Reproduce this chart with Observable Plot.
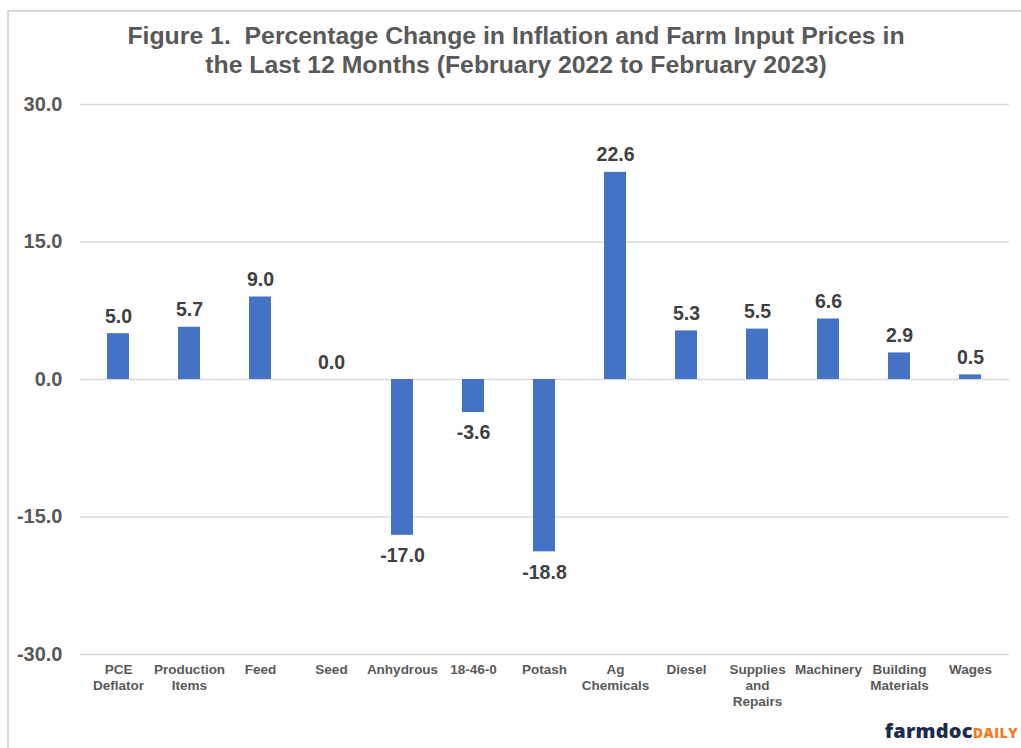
<!DOCTYPE html>
<html><head><meta charset="utf-8">
<script src="https://cdn.jsdelivr.net/npm/d3@7"></script>
<script src="https://cdn.jsdelivr.net/npm/@observablehq/plot@0.6"></script>
<style>
body{margin:0;background:#fff;font-family:"Liberation Sans",Arial,sans-serif;}
#wrap{position:relative;width:1021px;height:748px;overflow:hidden;background:#fff;}
#frame{position:absolute;left:7px;top:10px;width:1020px;height:745px;border-top:2px solid #d9d9d9;border-left:2px solid #d9d9d9;box-sizing:border-box;}
#title{position:absolute;left:0;top:22px;width:1032px;text-align:center;font-weight:bold;font-size:24.8px;line-height:28.5px;color:#595959;}
#chart{position:absolute;left:0;top:92px;}
#logo{position:absolute;right:3px;top:719px;font-family:"Open Sans",sans-serif;font-weight:800;font-size:20px;line-height:24px;color:#1d2b4f;letter-spacing:0.2px;}
#logo span{color:#f47b20;font-size:14px;letter-spacing:0.5px;}
</style></head>
<body>
<div id="wrap">
<div id="frame"></div>
<div id="title">Figure 1.&nbsp; Percentage Change in Inflation and Farm Input Prices in<br>the Last 12 Months (February 2022 to February 2023)</div>
<div id="chart"></div>
<div id="logo">farmdoc<span>DAILY</span></div>
</div>
<script>
const categories = ["PCE\nDeflator","Production\nItems","Feed","Seed","Anhydrous","18-46-0","Potash","Ag\nChemicals","Diesel","Supplies\nand\nRepairs","Machinery","Building\nMaterials","Wages"];
const values = [5.0, 5.7, 9.0, 0.0, -17.0, -3.6, -18.8, 22.6, 5.3, 5.5, 6.6, 2.9, 0.5];
const yTicks = [-30, -15, 0, 15, 30];

const data = categories.map((c, i) => ({cat: c, value: values[i]}));

const plot = Plot.plot({
  width: 1021,
  height: 656,
  marginLeft: 80,
  marginRight: 12,
  marginTop: 12,
  marginBottom: 94,
  style: {color: "#595959", fontFamily: "Liberation Sans, Arial, sans-serif", background: "transparent"},
  x: {domain: categories, paddingInner: 0.69, paddingOuter: 0.345, label: null},
  y: {domain: [-30, 30], label: null},
  marks: [
    Plot.gridY(yTicks, {stroke: "#d9d9d9", strokeOpacity: 1, strokeWidth: 1.3}),
    Plot.axisY(yTicks, {tickSize: 0, tickPadding: 18, tickFormat: d => d.toFixed(1), fontSize: 20, fontWeight: "bold", label: null}),
    Plot.axisX({tickSize: 0, tickPadding: 8, fontSize: 13.5, fontWeight: "bold", lineHeight: 1.18, label: null}),
    Plot.barY(data, {x: "cat", y: "value", fill: "#4472C4"}),
    Plot.text(data.filter(d => d.value >= 0), {x: "cat", y: "value", text: d => d.value.toFixed(1), lineAnchor: "bottom", dy: -11, fontSize: 19.5, fontWeight: "bold", fill: "#404040"}),
    Plot.text(data.filter(d => d.value < 0), {x: "cat", y: "value", text: d => d.value.toFixed(1), lineAnchor: "top", dy: 13, fontSize: 19.5, fontWeight: "bold", fill: "#404040"})
  ]
});
document.getElementById("chart").appendChild(plot);
</script>
</body></html>
